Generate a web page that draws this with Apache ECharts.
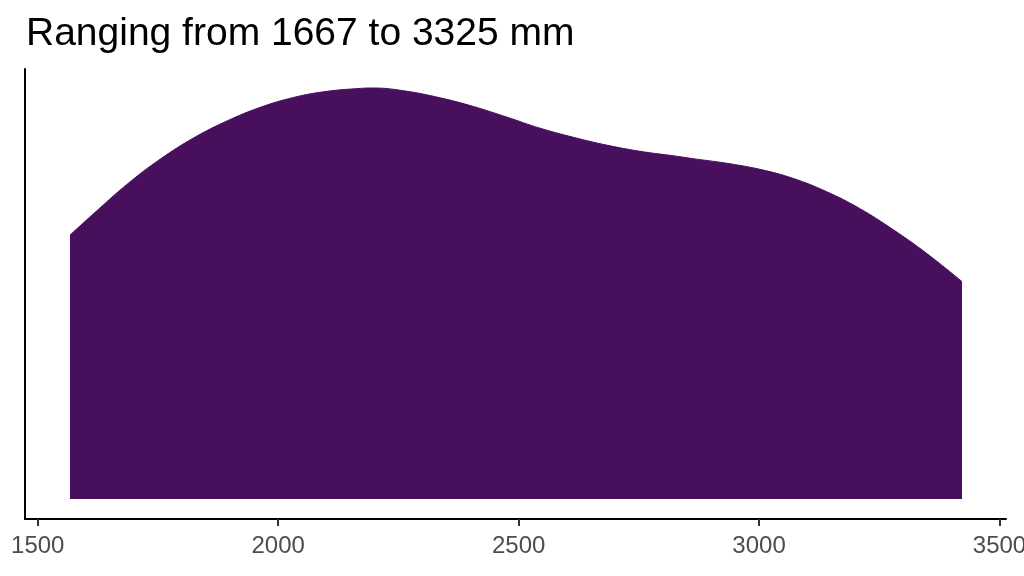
<!DOCTYPE html>
<html>
<head>
<meta charset="utf-8">
<script src="https://cdn.jsdelivr.net/npm/echarts@6/dist/echarts.min.js"></script>
<style>html,body{margin:0;padding:0;background:#fff}#c{width:1024px;height:576px}</style>
</head>
<body>
<div id="c"></div>
<script>
var titleText = 'Ranging from 1667 to 3325 mm';
var rainfall = [1567, 1617, 1686, 1756, 1825, 1894, 1963, 2032, 2102, 2171, 2198, 2268, 2337, 2406, 2476, 2545, 2614, 2683, 2752, 2822, 2863, 2932, 3002, 3071, 3140, 3209, 3278, 3348, 3422];
var density = [0.642, 0.695, 0.766, 0.828, 0.879, 0.920, 0.953, 0.977, 0.992, 0.999, 1.000, 0.992, 0.976, 0.955, 0.929, 0.902, 0.880, 0.861, 0.846, 0.835, 0.828, 0.817, 0.802, 0.780, 0.748, 0.707, 0.656, 0.598, 0.529];
var xTicks = [1500, 2000, 2500, 3000, 3500];

var points = rainfall.map(function (x, i) { return [x, density[i]]; });
var chart = echarts.init(document.getElementById('c'), null, {renderer: 'canvas'});
chart.setOption({
  animation: false,
  backgroundColor: '#ffffff',
  title: {
    text: titleText,
    left: 21,
    top: 10,
    textStyle: {fontFamily: 'Liberation Sans, Arial, sans-serif', fontSize: 39, fontWeight: 'normal', color: '#000000'}
  },
  grid: {left: 25, right: 18, top: 69, bottom: 57, containLabel: false, outerBoundsMode: 'none'},
  xAxis: {
    type: 'value',
    min: 1473.5,
    max: 3513.5,
    axisLine: {show: true, onZero: false, lineStyle: {color: '#000000', width: 2}},
    axisTick: {show: true, customValues: xTicks, length: 7, lineStyle: {color: '#333333', width: 2}},
    axisLabel: {show: true, customValues: xTicks, margin: 15, fontSize: 24, color: '#4D4D4D', fontFamily: 'Liberation Sans, Arial, sans-serif',
      formatter: function (v) { return String(v); }},
    splitLine: {show: false}
  },
  yAxis: {
    type: 'value',
    min: -0.0487,
    max: 1.0462,
    axisLine: {show: true, onZero: false, lineStyle: {color: '#000000', width: 2}},
    axisTick: {show: false},
    axisLabel: {show: false},
    splitLine: {show: false}
  },
  series: [{
    type: 'line',
    data: points,
    smooth: 0.4,
    symbol: 'none',
    lineStyle: {color: '#480F5C', width: 1},
    areaStyle: {color: '#480F5C', opacity: 1}
  }]
});
</script>
</body>
</html>
